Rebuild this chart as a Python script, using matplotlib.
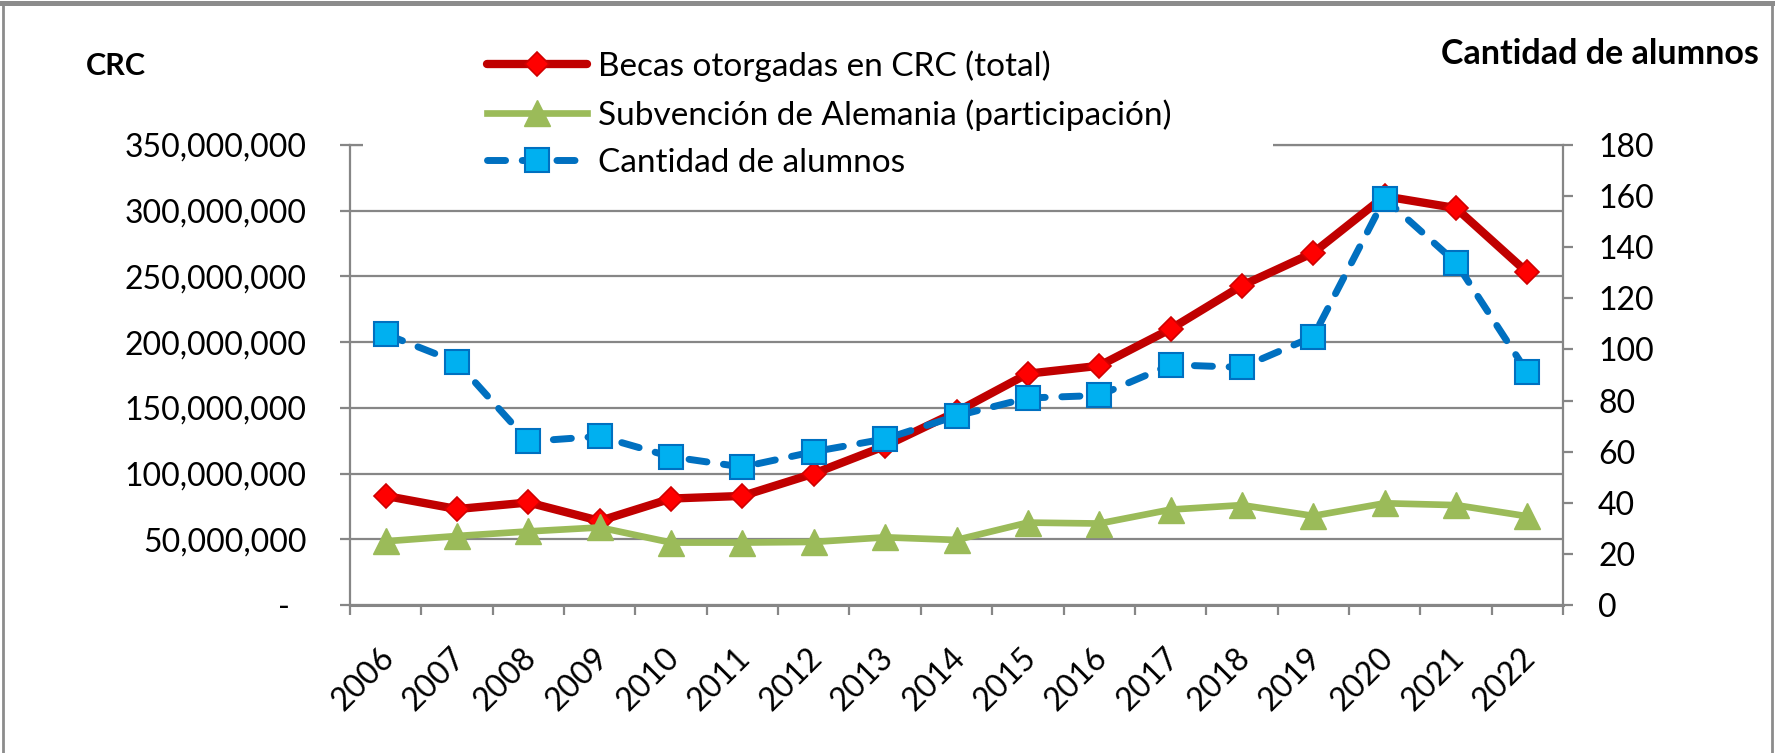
import numpy as np
import matplotlib
matplotlib.use("Agg")
import matplotlib.pyplot as plt
import matplotlib.transforms as mtransforms
from matplotlib.patches import Rectangle
from matplotlib.lines import Line2D

plt.rcParams['font.family'] = ['Lato', 'DejaVu Sans']

# ---- data ----
years = ['2006', '2007', '2008', '2009', '2010', '2011', '2012', '2013', '2014',
         '2015', '2016', '2017', '2018', '2019', '2020', '2021', '2022']
becas_millones = [83, 73, 78, 64, 81, 83, 100, 121, 147, 176, 182, 210, 243, 268, 311, 302, 253]
alemania_millones = [48.5, 52.5, 56, 59, 47.5, 47.5, 48, 51.5, 49.5, 62.7, 62, 72.6, 76, 67.8, 77.4, 76, 67.5]
alumnos = [106, 95, 64, 66, 58, 54, 60, 65, 74, 81, 82, 94, 93, 105, 159, 134, 91]
left_ticks = [0, 50e6, 100e6, 150e6, 200e6, 250e6, 300e6, 350e6]
left_labels = ['-  ', '50,000,000', '100,000,000', '150,000,000', '200,000,000',
               '250,000,000', '300,000,000', '350,000,000']
right_ticks = [0, 20, 40, 60, 80, 100, 120, 140, 160, 180]
series_names = ['Becas otorgadas en CRC (total)', 'Subvención de Alemania (participación)',
                'Cantidad de alumnos']

becas = np.array(becas_millones) * 1e6
alemania = np.array(alemania_millones) * 1e6

W, H = 1775, 753
fig = plt.figure(figsize=(W / 100, H / 100), dpi=100)
fig.patch.set_facecolor('white')

L, R, T, B = 350, 1563, 145, 605
ax = fig.add_axes([L / W, 1 - B / H, (R - L) / W, (B - T) / H])
ax2 = ax.twinx()

GRAY = '#868686'
x = np.arange(len(years))

red_line, = ax.plot(x, becas, color='#C00000', lw=6, marker='D', ms=12.5,
                    mfc='#FF0000', mec='#D00000', mew=1.2, zorder=3,
                    solid_joinstyle='round', solid_capstyle='round')
green_line, = ax.plot(x, alemania, color='#9BBB59', lw=4.8, marker='^', ms=19,
                      mfc='#9BBB59', mec='#9BBB59', zorder=4,
                      solid_joinstyle='round')
blue_line, = ax2.plot(x, alumnos, color='#0070C0', lw=5, ls=(0, (2.6, 2.4)),
                      dash_capstyle='round', marker='s', ms=17.5,
                      mfc='#00B0F0', mec='#0070C0', mew=1.5, zorder=5)

ax.set_xlim(-0.5, len(years) - 0.5)
ax.set_ylim(0, 350e6)
ax2.set_ylim(0, 180)

ax.set_yticks(left_ticks)
ax.set_yticklabels(left_labels)
ax2.set_yticks(right_ticks)
ax2.set_yticklabels([str(v) for v in right_ticks])

ax.set_xticks(np.arange(-0.5, len(years), 1.0))
ax.set_xticklabels([])
ax.set_xticks(x, minor=True)
ax.set_xticklabels(years, minor=True)

ax.yaxis.grid(True, color=GRAY, lw=1.6, zorder=0)
ax.set_axisbelow(True)

for s in ['left', 'top']:
    ax.spines[s].set_color(GRAY)
    ax.spines[s].set_linewidth(1.6)
ax.spines['bottom'].set_color(GRAY)
ax.spines['bottom'].set_linewidth(2.2)
ax.spines['right'].set_visible(False)
for s in ['left', 'top', 'bottom']:
    ax2.spines[s].set_visible(False)
ax2.spines['right'].set_color(GRAY)
ax2.spines['right'].set_linewidth(1.6)

ax.tick_params(axis='y', which='major', direction='out', length=7.2, width=1.6,
               color=GRAY, labelsize=23, pad=24)
ax2.tick_params(axis='y', which='major', direction='out', length=7.2, width=1.6,
                color=GRAY, labelsize=23, pad=18)
ax.tick_params(axis='x', which='major', direction='out', length=7.2, width=1.6,
               color=GRAY)
ax.tick_params(axis='x', which='minor', length=0, labelsize=23, pad=27)
shift = mtransforms.ScaledTranslation(-7 / 100, 0, fig.dpi_scale_trans)
for lab in ax.get_xticklabels(minor=True):
    lab.set_rotation(45)
    lab.set_ha('right')
    lab.set_va('top')
    lab.set_rotation_mode('anchor')
    lab.set_transform(lab.get_transform() + shift)

# white legend background covering the top grid line
fig.add_artist(Rectangle((363 / W, 1 - 185 / H), (1273 - 363) / W, (185 - 28) / H,
                         transform=fig.transFigure, facecolor='white',
                         edgecolor='none', zorder=2))

leg = fig.legend([red_line, green_line, blue_line], series_names,
                 loc='upper left', bbox_to_anchor=(487 / W, 1 - 50 / H),
                 frameon=False, fontsize=24, handlelength=3.0, handletextpad=0.34,
                 labelspacing=0.52, borderpad=0, borderaxespad=0, numpoints=1)
leg.set_zorder(3)

fig.text(116 / W, 1 - 66 / H, 'CRC', fontsize=22, fontweight='bold',
         ha='center', va='center')
fig.text(1600 / W, 1 - 54 / H, 'Cantidad de alumnos', fontsize=24.5,
         fontweight='bold', ha='center', va='center')

# outer border (left, top, right)
bc = '#8C8C8C'
fig.add_artist(Line2D([3 / W, 3 / W], [0, 1 - 2.5 / H], transform=fig.transFigure,
                      color=bc, lw=2, zorder=6))
fig.add_artist(Line2D([1771.5 / W, 1771.5 / W], [0, 1 - 2.5 / H],
                      transform=fig.transFigure, color=bc, lw=2, zorder=6))
fig.add_artist(Line2D([0, 1], [1 - 2.5 / H, 1 - 2.5 / H], transform=fig.transFigure,
                      color=bc, lw=3.6, zorder=6))

fig.savefig('out.png', dpi=100, facecolor='white')
